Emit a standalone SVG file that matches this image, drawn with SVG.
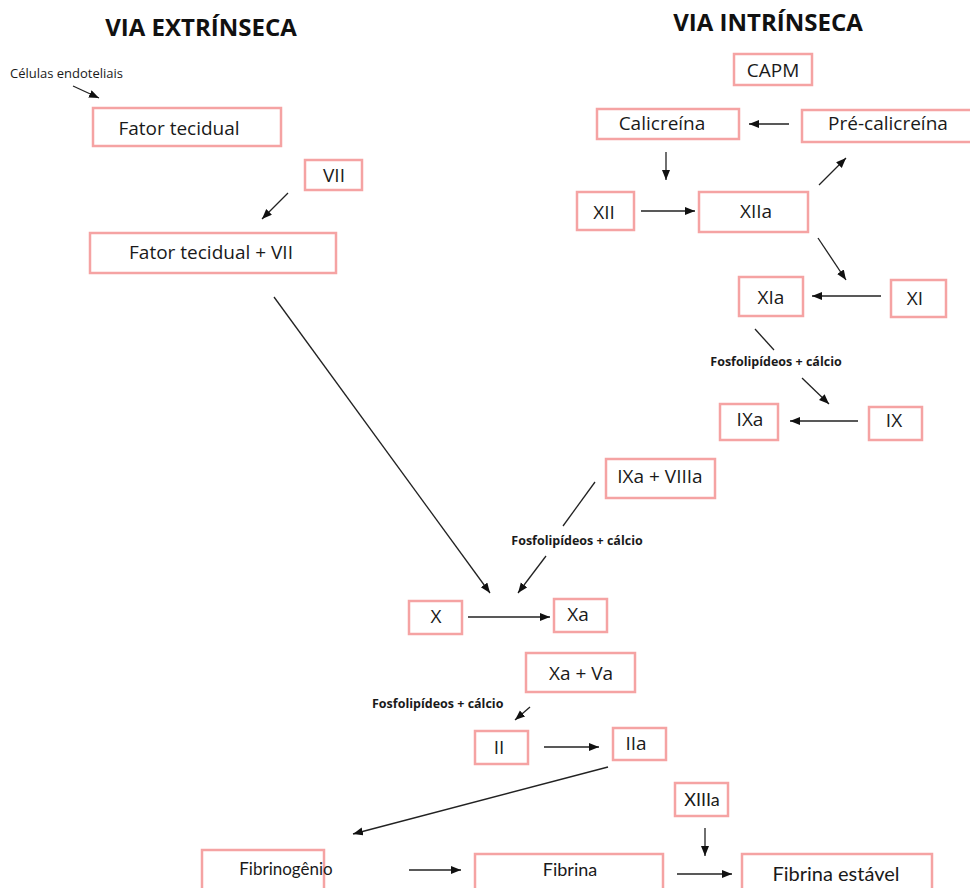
<svg xmlns="http://www.w3.org/2000/svg" width="970" height="888" viewBox="0 0 970 888">
  <style>
    .box { fill: #ffffff; stroke: #f5a3a3; stroke-width: 2.5; }
    .lbl { font-family: "Open Sans", Lato, sans-serif; font-size: 19px; fill: #1a1a1a; text-anchor: middle; }
    .cond { font-family: Lato, "Open Sans", sans-serif; font-size: 18px; fill: #1a1a1a; text-anchor: middle; }
    .title { font-family: "Open Sans", Lato, sans-serif; font-size: 24px; font-weight: bold; fill: #111111; text-anchor: middle; }
    .note { font-family: "Open Sans", Lato, sans-serif; font-size: 12.5px; font-weight: bold; fill: #1a1a1a; }
    .small { font-family: "Open Sans", Lato, sans-serif; font-size: 13px; fill: #1a1a1a; }
    .edge { stroke: #222222; stroke-width: 1.3; fill: none; }
    .arr { marker-end: url(#head); }
  </style>
  <defs>
    <marker id="head" markerUnits="userSpaceOnUse" markerWidth="12" markerHeight="10" refX="10" refY="4" orient="auto">
      <path d="M0,0 L10,4 L0,8 z" fill="#111111"/>
    </marker>
  </defs>
  <rect width="970" height="888" fill="#ffffff"/>

  <!-- titles -->
  <text class="title" x="201" y="36">VIA EXTRÍNSECA</text>
  <text class="title" x="768" y="31">VIA INTRÍNSECA</text>

  <!-- free labels -->
  <text class="small" x="10" y="78">Células endoteliais</text>
  <text class="note" x="776" y="366" text-anchor="middle">Fosfolipídeos + cálcio</text>
  <text class="note" x="577" y="545" text-anchor="middle">Fosfolipídeos + cálcio</text>
  <text class="note" x="372" y="708">Fosfolipídeos + cálcio</text>

  <!-- extrinsic pathway -->
  <g id="fator-tecidual"><rect class="box" x="93" y="108" width="188" height="38"/><text class="lbl" x="179" y="135">Fator tecidual</text></g>
  <g id="vii"><rect class="box" x="305" y="160" width="57" height="30"/><text class="lbl" x="334" y="182">VII</text></g>
  <g id="fator-tecidual-vii"><rect class="box" x="90" y="233" width="246" height="40"/><text class="lbl" x="211" y="259">Fator tecidual + VII</text></g>

  <!-- intrinsic pathway -->
  <g id="capm"><rect class="box" x="734" y="54" width="78" height="31"/><text class="lbl" x="773" y="77">CAPM</text></g>
  <g id="calicreina"><rect class="box" x="597" y="109" width="142" height="30"/><text class="lbl" x="662" y="130">Calicreína</text></g>
  <g id="pre-calicreina"><rect class="box" x="802" y="110" width="170" height="32"/><text class="lbl" x="888" y="130">Pré-calicreína</text></g>
  <g id="xii"><rect class="box" x="577" y="192" width="57" height="38"/><text class="lbl" x="604" y="219">XII</text></g>
  <g id="xiia"><rect class="box" x="699" y="192" width="109" height="40"/><text class="lbl" x="756" y="218">XIIa</text></g>
  <g id="xia"><rect class="box" x="739" y="277" width="64" height="39"/><text class="lbl" x="771" y="304">XIa</text></g>
  <g id="xi"><rect class="box" x="891" y="280" width="55" height="37"/><text class="lbl" x="915" y="305">XI</text></g>
  <g id="ixa"><rect class="box" x="720" y="404" width="58" height="36"/><text class="lbl" x="750" y="426">IXa</text></g>
  <g id="ix"><rect class="box" x="869" y="407" width="53" height="33"/><text class="lbl" x="894" y="427">IX</text></g>
  <g id="ixa-viiia"><rect class="box" x="606" y="459" width="109" height="39"/><text class="lbl" x="660" y="483">IXa + VIIIa</text></g>

  <!-- common pathway -->
  <g id="x"><rect class="box" x="409" y="601" width="53" height="33"/><text class="lbl" x="436" y="623">X</text></g>
  <g id="xa"><rect class="box" x="554" y="599" width="53" height="33"/><text class="lbl" x="578" y="621">Xa</text></g>
  <g id="xa-va"><rect class="box" x="526" y="653" width="109" height="39"/><text class="lbl" x="581" y="680">Xa + Va</text></g>
  <g id="ii"><rect class="box" x="475" y="731" width="53" height="33"/><text class="lbl" x="499" y="754">II</text></g>
  <g id="iia"><rect class="box" x="613" y="728" width="53" height="32"/><text class="lbl" x="636" y="750">IIa</text></g>
  <g id="xiiia"><rect class="box" x="675" y="783" width="53" height="33"/><text class="cond" x="702" y="806">XIIIa</text></g>
  <g id="fibrinogenio"><rect class="box" x="202" y="850" width="122" height="40"/><text class="cond" x="286" y="875" style="font-size:17px">Fibrinogênio</text></g>
  <g id="fibrina"><rect class="box" x="475" y="854" width="188" height="36"/><text class="cond" x="570" y="876">Fibrina</text></g>
  <g id="fibrina-estavel"><rect class="box" x="742" y="854" width="190" height="36"/><text class="cond" x="836" y="881" style="font-size:20px">Fibrina estável</text></g>

  <!-- connectors -->
  <g id="connectors">
    <line class="edge arr" x1="73" y1="86" x2="99" y2="98"/>
    <line class="edge arr" x1="288" y1="193" x2="262" y2="219"/>
    <line class="edge arr" x1="274" y1="297" x2="490" y2="593"/>

    <line class="edge arr" x1="789" y1="124" x2="749" y2="124"/>
    <line class="edge arr" x1="666" y1="152" x2="666" y2="180"/>
    <line class="edge arr" x1="641" y1="211" x2="695" y2="211"/>
    <line class="edge arr" x1="819" y1="185" x2="846" y2="158"/>
    <line class="edge arr" x1="818" y1="238" x2="846" y2="280"/>
    <line class="edge arr" x1="881" y1="296" x2="812" y2="296"/>
    <line class="edge" x1="755" y1="329" x2="774" y2="350"/>
    <line class="edge arr" x1="802" y1="378" x2="829" y2="404"/>
    <line class="edge arr" x1="858" y1="421" x2="790" y2="421"/>
    <line class="edge" x1="595" y1="482" x2="563" y2="526"/>
    <line class="edge arr" x1="546" y1="556" x2="518" y2="593"/>

    <line class="edge arr" x1="468" y1="617" x2="550" y2="617"/>
    <line class="edge arr" x1="530" y1="707" x2="515" y2="720"/>
    <line class="edge arr" x1="544" y1="747" x2="599" y2="747"/>
    <line class="edge arr" x1="608" y1="767" x2="353" y2="834"/>
    <line class="edge arr" x1="705" y1="828" x2="705" y2="856"/>
    <line class="edge arr" x1="409" y1="870" x2="461" y2="870"/>
    <line class="edge arr" x1="677" y1="874" x2="732" y2="874"/>
  </g>
</svg>
